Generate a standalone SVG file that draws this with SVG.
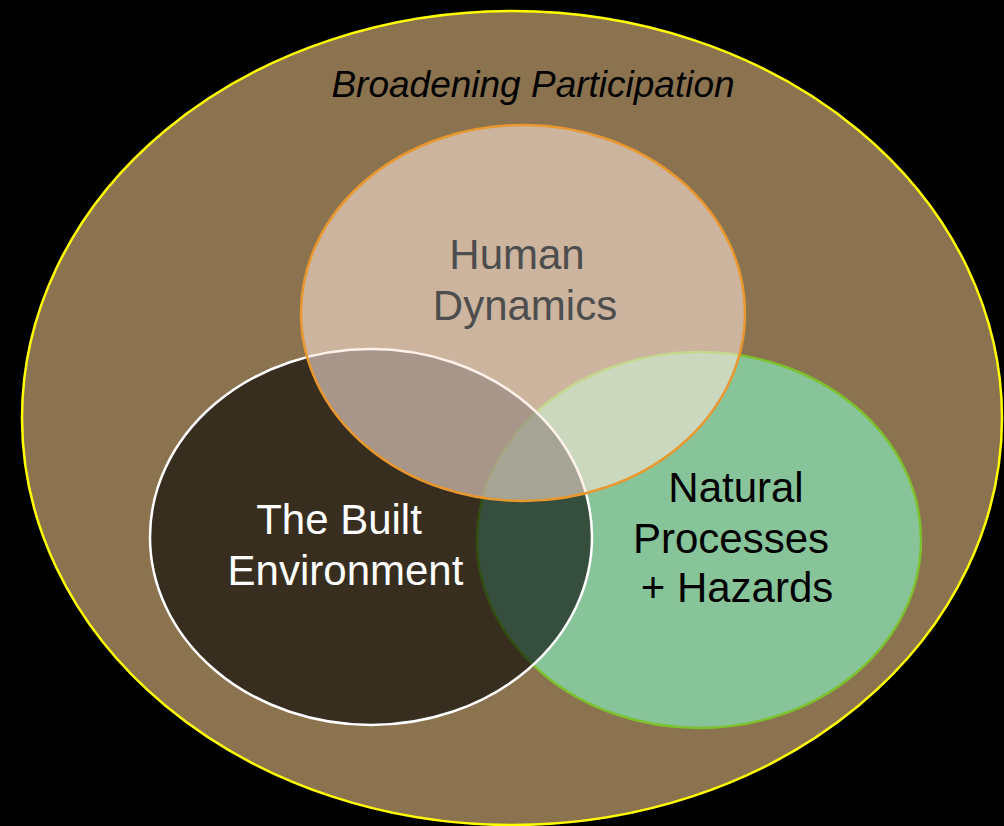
<svg xmlns="http://www.w3.org/2000/svg" width="1004" height="826" viewBox="0 0 1004 826">
<style>
.lbl{font-family:"Liberation Sans",Arial,sans-serif;font-size:42px;text-anchor:middle}
</style>
<rect width="1004" height="826" fill="#000000"/>
<g id="broadening">
<ellipse cx="512" cy="418" rx="490" ry="407" fill="#8B7350" stroke="#FFFF00" stroke-width="2.5"/>
<text x="533" y="97" font-family="'Liberation Sans',Arial,sans-serif" font-size="37" font-style="italic" text-anchor="middle" fill="#000000">Broadening Participation</text>
</g>
<g id="natural">
<ellipse cx="699" cy="540" rx="222" ry="188" fill="#88C49A" stroke="#7DC22E" stroke-width="2.5"/>
</g>
<g id="built">
<ellipse cx="371" cy="537" rx="221" ry="188" fill="#000000" fill-opacity="0.6" stroke="#FFFFFF" stroke-width="2.5"/>
</g>
<g id="human">
<ellipse cx="523" cy="313" rx="222" ry="188" fill="#FFE7DB" fill-opacity="0.56" stroke="#E8982E" stroke-width="2.5"/>
</g>
<g id="labels">
<text class="lbl" x="517" y="269" fill="#4D4D4D">Human</text>
<text class="lbl" x="525" y="320" fill="#4D4D4D">Dynamics</text>
<text class="lbl" x="339" y="534" fill="#FFFFFF">The Built</text>
<text class="lbl" x="345.5" y="585" fill="#FFFFFF">Environment</text>
<text class="lbl" x="736" y="502" fill="#000000">Natural</text>
<text class="lbl" x="731" y="553" fill="#000000">Processes</text>
<text class="lbl" x="737" y="602" fill="#000000">+ Hazards</text>
</g>
<g id="connectors"></g>
</svg>
